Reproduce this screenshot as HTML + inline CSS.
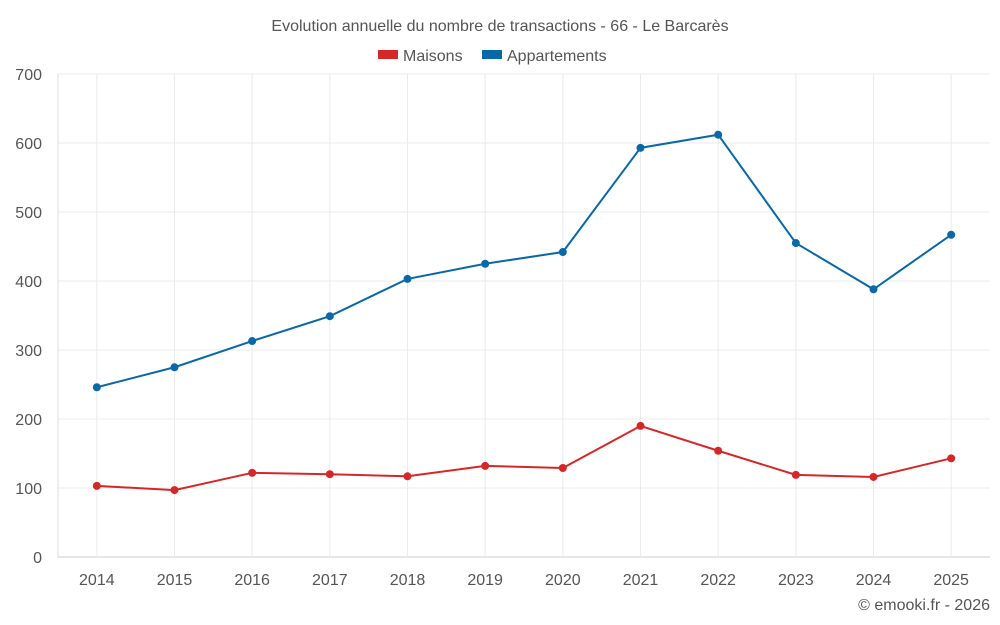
<!DOCTYPE html>
<html><head><meta charset="utf-8"><style>
html,body{margin:0;padding:0;background:#fff;}
svg{display:block;font-family:"Liberation Sans",sans-serif;}
</style></head><body>
<svg id="chart" width="1000" height="625" viewBox="0 0 1000 625">
<text x="500" y="31" text-anchor="middle" font-size="16" fill="#555">Evolution annuelle du nombre de transactions - 66 - Le Barcarès</text>
<g>
<g><rect x="378" y="50" width="20" height="9" fill="#d62728"/><text x="403" y="61" font-size="16" fill="#555">Maisons</text></g>
<g><rect x="482" y="50" width="20" height="9" fill="#0868a8"/><text x="507" y="61" font-size="16" fill="#555">Appartements</text></g>
</g>
<g id="grid"></g>
<g id="axes"></g>
<g id="series"></g>
<text x="990" y="610" text-anchor="end" font-size="16" fill="#555">© emooki.fr - 2026</text>
</svg>
<script>
const years = ["2014","2015","2016","2017","2018","2019","2020","2021","2022","2023","2024","2025"];
const maisons = [103,97,122,120,117,132,129,190,154,119,116,143];
const appartements = [246,275,313,349,403,425,442,593,612,455,388,467];
const yTicks = [0,100,200,300,400,500,600,700];

const L=58,R=990,T=74,B=557,yMax=700;
const band=(R-L)/years.length;
const x=i=>L+band*(i+0.5);
const y=v=>B-(v/yMax)*(B-T);
const NS="http://www.w3.org/2000/svg";
function mk(tag,attrs,parent){const e=document.createElementNS(NS,tag);for(const k in attrs)e.setAttribute(k,attrs[k]);parent.appendChild(e);return e;}
const grid=document.getElementById('grid'),axes=document.getElementById('axes'),series=document.getElementById('series');
yTicks.forEach(t=>{
  const ln=mk('line',{x1:L,x2:R,y1:y(t),y2:y(t),stroke:t===0?'#ccc':'#ebebeb','stroke-width':1},grid);
  
  
  const tx=mk('text',{x:42,y:y(t)+6,'text-anchor':'end','font-size':16,fill:'#555'},axes);
  tx.textContent=t;
  
  
});
const axl=mk('line',{x1:L,x2:L,y1:T,y2:B,stroke:'#ddd','stroke-width':1},grid);


years.forEach((yr,i)=>{
  const ln=mk('line',{x1:x(i),x2:x(i),y1:T,y2:B,stroke:'#ebebeb','stroke-width':1},grid);
  
  
  const tx=mk('text',{x:x(i),y:585,'text-anchor':'middle','font-size':16,fill:'#555'},axes);
  tx.textContent=yr;
  
  
});
function draw(vals,color,name){
  const p=mk('polyline',{points:vals.map((v,i)=>x(i)+','+y(v)).join(' '),fill:'none',stroke:color,'stroke-width':2},series);
  
  
  vals.forEach((v,i)=>{
    const c=mk('circle',{cx:x(i),cy:y(v),r:4,fill:color},series);
    
    
  });
}
draw(maisons,'#d62728','maisons');
draw(appartements,'#0868a8','appartements');
</script>
</body></html>
